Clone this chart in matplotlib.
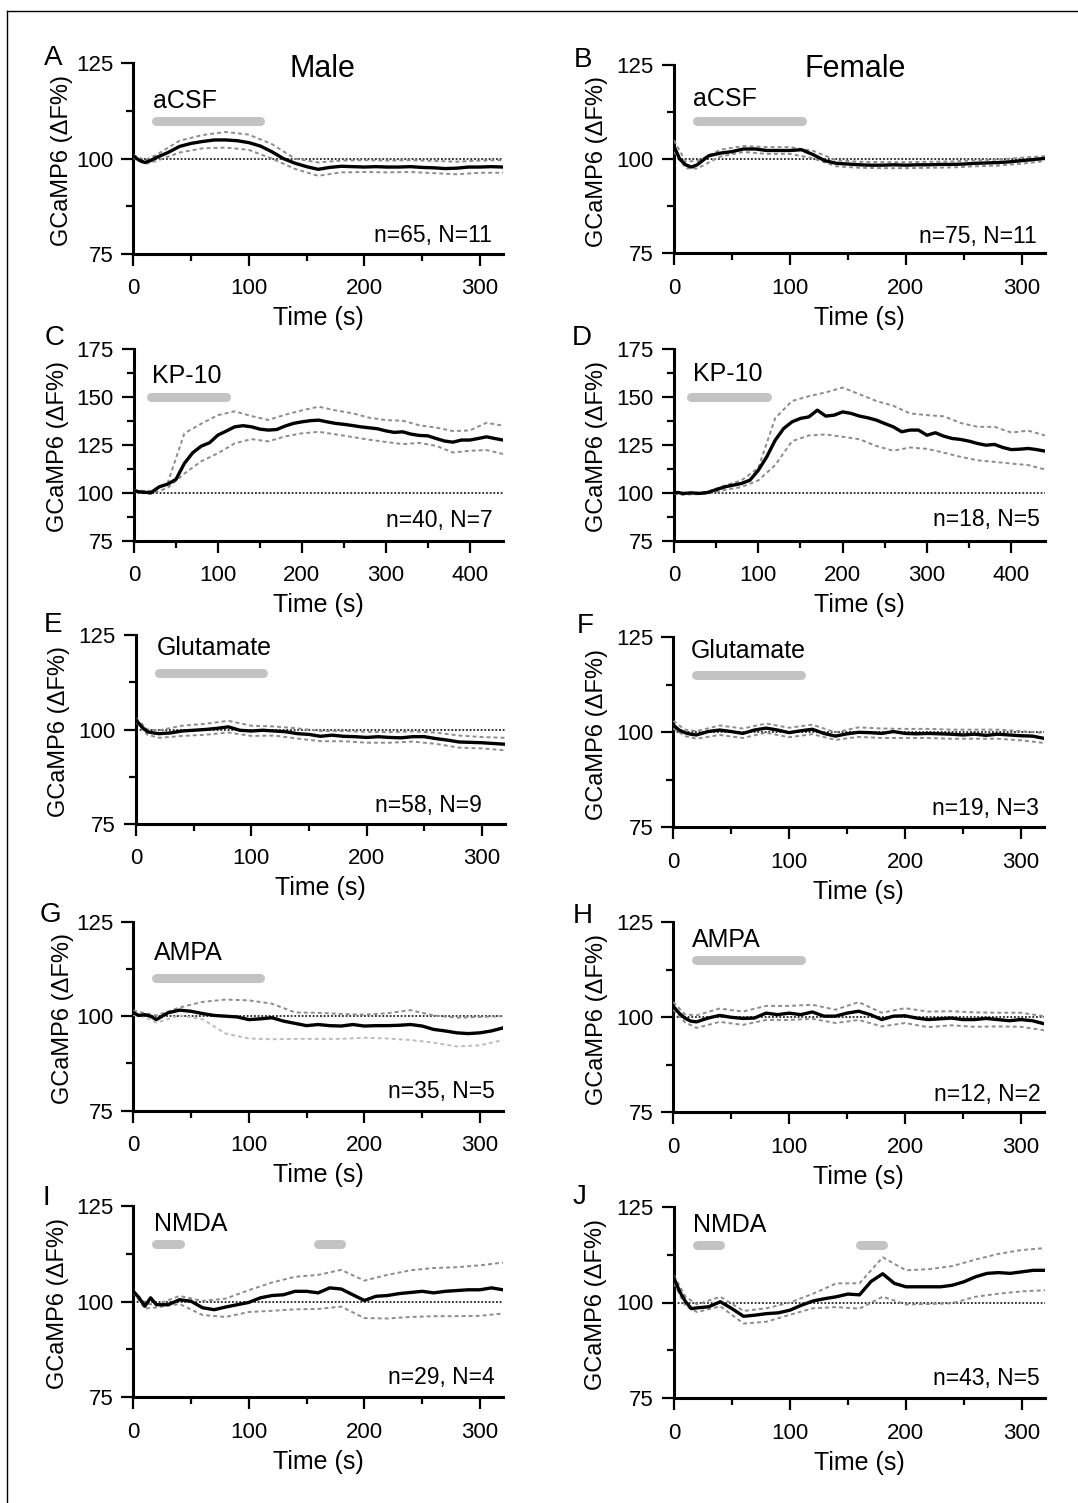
import matplotlib
matplotlib.use("Agg")
import matplotlib.pyplot as plt
from matplotlib.lines import Line2D
from matplotlib.ticker import MultipleLocator

plt.rcParams['font.family'] = ['Liberation Sans', 'DejaVu Sans']

# time grids (s): mean traces and SEM bounds
t_m320 = [0, 5, 10, 15] + list(range(20, 321, 10))
t_b320 = [0, 10] + list(range(20, 321, 20))
t_m440 = [0, 5, 10, 15] + list(range(20, 441, 10))
t_b440 = [0, 10] + list(range(20, 441, 20))

# A - male aCSF
a_mean = [100.7, 99.6, 99.0, 99.5, 100.3, 101.6, 103.2, 104.0, 104.5, 104.9, 104.9, 104.7, 104.2, 103.3,
          101.8, 100.0, 98.8, 97.9, 97.2, 97.7, 98.0, 97.9, 97.8, 97.9, 97.8, 97.8, 97.9, 97.7, 97.6,
          97.4, 97.5, 97.8, 97.8, 97.9, 97.8]
a_up = [101, 99.6, 101, 104.7, 106.2, 107, 106.3, 103.8, 100, 99, 99.5, 99.6, 99.5, 99.6, 99.4, 99.2, 99.5, 99.6]
a_lo = [100.2, 98.6, 99.4, 101.6, 102.7, 102.9, 102.3, 100, 97.3, 95.5, 96.4, 96.5, 96.4, 96.5, 96.2, 95.9, 96.3, 96.3]

# B - female aCSF
b_mean = [103.4, 100.0, 98.5, 97.9, 98.5, 100.9, 101.6, 102.0, 102.7, 102.7, 102.3, 102.3, 102.3, 102.5,
          101.2, 99.6, 98.9, 98.7, 98.5, 98.4, 98.4, 98.5, 98.4, 98.5, 98.5, 98.6, 98.6, 98.7, 98.9,
          99.0, 99.1, 99.3, 99.6, 99.9, 100.2]
b_up = [105, 99.4, 99.5, 102.5, 103.5, 103.2, 103.2, 102.2, 99.7, 99.3, 99.2, 99.2, 99.3, 99.4, 99.7, 99.9, 100.4, 100.8]
b_lo = [102, 97.6, 97.5, 100.7, 101.9, 101.4, 101.4, 100.2, 98.1, 97.7, 97.6, 97.6, 97.7, 97.8, 98.1, 98.3, 98.8, 99.5]

# C - male KP-10
c_mean = [101, 100.6, 100.3, 100.2, 100, 103.1, 104.5, 107, 115.3, 120.9, 124.3, 126.1, 130.1, 132.2,
          134.4, 135, 134.4, 133.2, 132.7, 133, 134.8, 136.2, 137, 137.6, 137.9, 137, 136.2, 135.7,
          135.1, 134.4, 133.9, 133.4, 132.3, 131.5, 131.8, 130.6, 129.9, 129.7, 128.3, 127, 126.4,
          127.5, 127.5, 128.3, 129.2, 128.3, 127.5]
c_up = [101.5, 101, 101, 105, 131, 136, 140.5, 142.5, 140, 138, 140.7, 143, 144.9, 143, 141.5, 139.2,
        137.9, 137.6, 135.2, 134, 132.2, 132.5, 136.5, 135]
c_lo = [100.5, 99.8, 99.5, 102.5, 110, 116.4, 120.6, 125.8, 128, 126.8, 129.4, 131, 131.8, 130.5, 129.1,
        127.7, 126.5, 125.4, 126, 124.5, 121, 121.9, 122.3, 120.2]

# D - female KP-10
d_mean = [100, 100.2, 99.7, 99.8, 100, 99.7, 100.2, 101.7, 103.1, 104, 104.9, 106.6, 111.8, 118.8,
          127.5, 133.6, 137.1, 138.9, 139.7, 143.2, 140.1, 140.6, 142.3, 141.5, 140.1, 139.2, 138,
          136.2, 134.5, 131.9, 132.8, 132.8, 130.1, 131.4, 129.6, 128.4, 127.9, 127, 125.8, 124.9,
          125.3, 123.7, 122.6, 122.8, 123.2, 122.6, 121.8]
d_up = [100.5, 99.5, 99.8, 100.5, 103.8, 106.5, 113, 139, 148, 150.5, 152.5, 155, 151.5, 148, 145.5,
        141.5, 140.6, 140, 136.5, 134.5, 134.5, 131.5, 132.5, 130]
d_lo = [99.5, 99, 99.2, 99.5, 101.5, 103, 106.5, 114.5, 127, 130, 130.5, 129.3, 128, 124.5, 122,
        123.7, 123, 121, 118.8, 117, 116.2, 115.3, 114.5, 112.2]

# E - male glutamate
e_mean = [102.5, 100.7, 99.4, 99.1, 98.9, 99.1, 99.6, 99.8, 100, 100.3, 100.7, 99.8, 99.6, 99.8,
          99.6, 99.4, 98.9, 98.7, 98.2, 98.5, 98.2, 98.1, 97.9, 98.1, 97.9, 97.8, 98.1, 98.1, 97.6,
          97.2, 96.7, 96.6, 96.5, 96.3, 96.1]
e_up = [103, 100, 99.8, 101, 101.5, 102.3, 101, 100.8, 100.3, 99.6, 99.6, 99.4, 99.3, 99.5, 99.2, 98.4, 98, 97.8]
e_lo = [102, 98.6, 97.8, 98.3, 98.6, 99.2, 98.3, 98.4, 97.6, 96.9, 96.9, 96.5, 96.5, 96.8, 96.2, 95.2, 95, 94.5]

# F - female glutamate
f_mean = [101.9, 100.6, 99.9, 99.5, 99.3, 100.2, 100.6, 100.2, 99.7, 100.6, 101.1, 100.6, 99.9, 100.4,
          100.8, 99.7, 99.0, 99.6, 100, 99.9, 99.7, 100.2, 99.7, 99.6, 99.7, 99.6, 99.5, 99.3, 99.5,
          99.2, 99.5, 99.3, 99.1, 99.0, 98.4]
f_up = [103, 100.7, 100.3, 101.8, 101, 102.3, 101.2, 102, 100, 101.3, 101, 100.9, 100.9, 100.7, 100.7, 100.7, 100.3, 99.8]
f_lo = [101, 99, 98.3, 99.3, 98.5, 99.9, 98.7, 99.5, 98, 98.8, 98.5, 98.5, 98.5, 98.3, 98.3, 98.3, 97.9, 97.2]

# G - male AMPA
g_mean = [100.9, 100.2, 100.4, 100, 99.1, 100.9, 101.6, 101.3, 100.7, 100.2, 100, 99.8, 99.1, 99.3,
          99.6, 98.7, 98.1, 97.5, 97.8, 97.5, 97.4, 97.8, 97.4, 97.5, 97.5, 97.6, 97.8, 97.4, 96.5,
          96.1, 95.6, 95.4, 95.6, 96.1, 96.9]
g_up = [101.5, 100.8, 100.2, 102.3, 103.8, 104.4, 104.2, 103.3, 101, 100.9, 100.6, 100.4, 100.8, 101.6, 100.2, 99.6, 99.8, 100]
g_lo = [100.3, 99.8, 98.3, 100.2, 99.2, 95.4, 94.1, 93.9, 94, 94, 94, 94.3, 94.1, 93.7, 93, 92, 92.3, 93.7]

# H - female AMPA
h_mean = [102.9, 101.1, 99.8, 99, 98.8, 99.8, 100.5, 100, 99.7, 99.8, 101.1, 100.7, 101.1, 100.7,
          101.4, 100.3, 100.3, 101.1, 101.6, 100.7, 99.4, 100.3, 100.4, 99.8, 99.4, 99.6, 99.8, 99.4,
          99.4, 99.7, 99.4, 99.1, 99.4, 99.1, 98.3]
h_up = [104, 100.8, 100.5, 102.3, 101.5, 103, 103, 103.3, 102, 104, 101.2, 102.4, 101.5, 101.6, 101.3, 101.2, 101.2, 100.3]
h_lo = [102, 98.7, 97.2, 98.8, 98, 99.3, 99.3, 99.6, 98.5, 99.3, 97.6, 98.5, 97.4, 97.9, 97.5, 97.6, 97.5, 96.6]

# I - male NMDA
i_mean = [102.7, 101, 98.8, 101, 99.2, 99.2, 100.5, 100.1, 98.4, 97.9, 98.6, 99.2, 99.8, 101, 101.6,
          101.8, 102.7, 102.7, 102.3, 103.6, 103.3, 101.8, 100.3, 101.4, 101.6, 102.1, 102.4, 102.7,
          102.3, 102.7, 102.9, 103.1, 103.1, 103.6, 103.1]
i_up = [103, 99.5, 99.2, 101.5, 100.2, 100.8, 103, 105, 106.5, 107, 108.3, 105.5, 107, 108.2, 108.8, 109, 109.5, 110.2]
i_lo = [102.4, 98.2, 98.5, 99.4, 96.5, 96, 97.3, 97.6, 98, 98.1, 98.7, 95.7, 95.6, 96, 96.2, 96.2, 96.3, 96.9]

# J - female NMDA
j_mean = [106.3, 102.8, 100.2, 98.4, 98.6, 98.9, 100.2, 98.4, 96.4, 96.7, 97.1, 97.3, 98, 99.3, 100.4,
          101, 101.5, 102.2, 102, 105.5, 107.5, 105, 104.1, 104.1, 104.1, 104.1, 104.5, 105.4, 106.7,
          107.6, 107.8, 107.6, 108, 108.4, 108.4]
j_up = [107, 101.5, 99.5, 101.5, 97.8, 98.5, 100, 102.3, 105, 105, 111.8, 108.4, 108.7, 109.5, 111.2, 112.7, 113.7, 114.2]
j_lo = [105, 99, 97.5, 99, 94.5, 95, 96.8, 98.5, 98.8, 98.4, 101.5, 99.5, 99.6, 99.8, 101.5, 102.3, 102.9, 103.2]

letters = ['A', 'B', 'C', 'D', 'E', 'F', 'G', 'H', 'I', 'J']
drugs = ['aCSF', 'aCSF', 'KP-10', 'KP-10', 'Glutamate', 'Glutamate', 'AMPA', 'AMPA', 'NMDA', 'NMDA']
counts = ['n=65, N=11', 'n=75, N=11', 'n=40, N=7', 'n=18, N=5', 'n=58, N=9',
          'n=19, N=3', 'n=35, N=5', 'n=12, N=2', 'n=29, N=4', 'n=43, N=5']
bar_times = [[(20, 110)]] * 8 + [[(20, 40), (160, 180)]] * 2

means = [a_mean, b_mean, c_mean, d_mean, e_mean, f_mean, g_mean, h_mean, i_mean, j_mean]
uppers = [a_up, b_up, c_up, d_up, e_up, f_up, g_up, h_up, i_up, j_up]
lowers = [a_lo, b_lo, c_lo, d_lo, e_lo, f_lo, g_lo, h_lo, i_lo, j_lo]

# layout in pixels
W, H = 1078, 1503
boxes = [(133.3, 63.3, 503, 254), (674, 65, 1045, 253.3),
         (134, 349, 503.3, 540.7), (674, 349.3, 1045, 540.7),
         (136, 635, 505, 824), (673.3, 637.3, 1044, 827.3),
         (133.3, 921.7, 503, 1110.7), (673.3, 922.3, 1044, 1112.3),
         (133.3, 1206, 503, 1397.3), (674, 1206.7, 1045, 1398.3)]
bar_y = [110, 110, 150, 150, 115, 115, 110, 115, 115, 115]
drug_pos = [(17.3, 113.4), (16.7, 114), (22, 157.4), (22, 158.4), (18, 119.7),
            (15.3, 119.5), (17.6, 115), (16, 118.4), (17.6, 118.4), (16.5, 118.4)]
count_pos = [(0.969, 0.065), (0.979, 0.053), (0.971, 0.073), (0.987, 0.077), (0.937, 0.065),
             (0.986, 0.065), (0.978, 0.066), (0.99, 0.059), (0.978, 0.07), (0.987, 0.069)]
ylab_x = [-0.193, -0.208, -0.206, -0.208, -0.21, -0.207, -0.19, -0.207, -0.203, -0.21]
letter_pos = [(53, 65), (583, 66.7), (55, 345), (582, 345), (53, 632),
              (585, 633), (50, 922), (583, 923), (46, 1205), (580, 1204)]
lower_col = ['#8c8c8c'] * 6 + ['#bdbdbd'] + ['#8c8c8c'] * 3

fig = plt.figure(figsize=(W / 100, H / 100), dpi=100)

for k in range(10):
    l, t, r, b = boxes[k]
    ax = fig.add_axes([l / W, 1 - b / H, (r - l) / W, (b - t) / H])
    long_run = k in (2, 3)
    tm = t_m440 if long_run else t_m320
    tb = t_b440 if long_run else t_b320

    ax.axhline(100, color='black', lw=1.1, ls=(0, (1.2, 1.2)), zorder=2)
    ax.plot(tb, uppers[k], color='#8c8c8c', lw=1.4, ls=(0, (2, 1.6)), zorder=3)
    ax.plot(tb, lowers[k], color=lower_col[k], lw=1.4, ls=(0, (2, 1.6)), zorder=3)
    ax.plot(tm, means[k], color='black', lw=2.4, zorder=4)

    for s, e in bar_times[k]:
        ax.plot([s, e], [bar_y[k], bar_y[k]], color='#c3c3c3', lw=6.5,
                solid_capstyle='round', zorder=2)
    ax.text(drug_pos[k][0], drug_pos[k][1], drugs[k], fontsize=18, va='baseline', ha='left')
    ax.text(count_pos[k][0], count_pos[k][1], counts[k], transform=ax.transAxes,
            fontsize=16.5, ha='right', va='baseline')

    if long_run:
        ax.set_xlim(0, 440)
        ax.set_ylim(75, 175)
    else:
        ax.set_xlim(0, 320)
        ax.set_ylim(75, 125)
    ax.xaxis.set_major_locator(MultipleLocator(100))
    ax.xaxis.set_minor_locator(MultipleLocator(50))
    ax.yaxis.set_major_locator(MultipleLocator(25))
    ax.yaxis.set_minor_locator(MultipleLocator(12.5))
    ax.spines['top'].set_visible(False)
    ax.spines['right'].set_visible(False)
    ax.spines['left'].set_linewidth(2.2)
    ax.spines['bottom'].set_linewidth(2.2)
    ax.tick_params(which='major', direction='out', length=8.5, width=1.6, labelsize=16)
    ax.tick_params(axis='x', which='major', pad=9)
    ax.tick_params(axis='y', which='major', pad=6)
    ax.tick_params(which='minor', direction='out', length=5, width=1.6)
    ax.set_xlabel('Time (s)', fontsize=18, labelpad=5)
    ax.text(ylab_x[k], 0.49, 'GCaMP6 (\u0394F%)', transform=ax.transAxes, rotation=90,
            fontsize=17, ha='center', va='center')

    fig.text(letter_pos[k][0] / W, 1 - letter_pos[k][1] / H, letters[k], fontsize=20,
             ha='center', va='baseline')

fig.text(322.5 / W, 1 - 76.7 / H, 'Male', fontsize=22, ha='center', va='baseline')
fig.text(855 / W, 1 - 76.7 / H, 'Female', fontsize=22, ha='center', va='baseline')

# frame lines along the top and left edge
fig.add_artist(Line2D([7 / W, 7 / W], [0, 1 - 10.5 / H], transform=fig.transFigure, color='black', lw=1))
fig.add_artist(Line2D([7 / W, 1], [1 - 10.5 / H, 1 - 10.5 / H], transform=fig.transFigure, color='black', lw=1))

fig.savefig('out.png', dpi=100)
